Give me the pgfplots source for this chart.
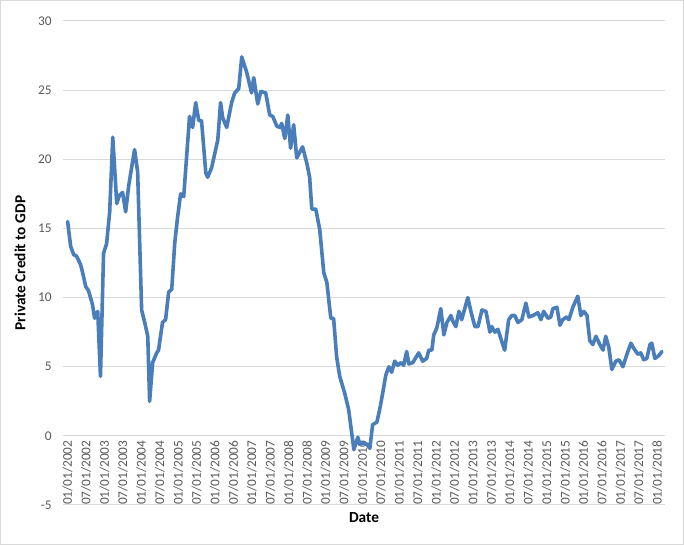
\documentclass[border=0pt]{standalone}
\usepackage{fontspec}
\setmainfont{Carlito}
\usepackage{pgfplots}
\pgfplotsset{compat=1.18}
\definecolor{linec}{HTML}{4A7EBB}
\definecolor{gridc}{HTML}{D9D9D9}
\definecolor{tickc}{HTML}{595959}
\begin{document}
\begin{tikzpicture}
\useasboundingbox (0,0) rectangle (513pt,408.75pt);
\draw[gridc, line width=0.75pt] (0.375pt,0.375pt) rectangle (512.625pt,408.375pt);
\begin{axis}[
  at={(47.25pt,30pt)}, anchor=south west,
  scale only axis, width=451.5pt, height=363pt,
  xmin=-1.5, xmax=194.5, ymin=-5, ymax=30,
  xtick={0,6,...,192},
  xticklabels={01/01/2002,07/01/2002,01/01/2003,07/01/2003,01/01/2004,07/01/2004,01/01/2005,07/01/2005,01/01/2006,07/01/2006,01/01/2007,07/01/2007,01/01/2008,07/01/2008,01/01/2009,07/01/2009,01/01/2010,07/01/2010,01/01/2011,07/01/2011,01/01/2012,07/01/2012,01/01/2013,07/01/2013,01/01/2014,07/01/2014,01/01/2015,07/01/2015,01/01/2016,07/01/2016,01/01/2017,07/01/2017,01/01/2018},
  ytick={-5,0,...,30},
  ymajorgrids, grid style={gridc, line width=0.75pt},
  axis line style={draw=none},
  major tick length=0pt,
  tick label style={font=\fontsize{10}{12}\selectfont, color=tickc},
  /pgf/number format/assume math mode=true,
  xticklabel style={rotate=90, anchor=east},
  xticklabel shift=-51.857pt,
  yticklabel shift=5pt,
  xlabel={Date}, ylabel={Private Credit to GDP},
  label style={font=\fontsize{11.5}{13}\selectfont\bfseries},
  xlabel style={at={(axis description cs:0.5,-0.027)}, anchor=center},
  ylabel style={at={(axis description cs:-0.0714,0.5)}, anchor=center},
]
\addplot[linec, line width=2.7pt, line join=round, line cap=round, mark=none] coordinates {
(0,15.5) (1.0,13.7) (2.0,13.1) (2.9,13.0) (4.2,12.4) (4.9,11.8) (5.9,10.8) (6.8,10.5)
(8.1,9.5) (8.8,8.5) (9.8,9.0) (10.7,4.3) (11.7,13.2) (12.7,13.9) (13.7,16.2) (14.7,21.6)
(16.0,16.8) (16.9,17.4) (17.9,17.6) (18.9,16.2) (19.9,18.1) (21.8,20.7) (22.8,19.1)
(24.1,9.1) (25.1,8.2) (26.1,7.2) (26.7,2.5) (27.7,5.3) (29.0,6.0) (29.6,6.2) (30.9,8.2)
(31.9,8.4) (32.9,10.4) (33.9,10.6) (34.9,14.0) (35.8,15.8) (36.8,17.5) (37.8,17.3)
(39.7,23.1) (40.7,22.3) (41.7,24.1) (42.7,22.8) (43.6,22.8) (45.0,19.0) (45.6,18.7)
(46.9,19.4) (48.9,21.4) (49.8,24.1) (50.5,23.0) (51.8,22.3) (53.4,24.1) (54.4,24.8)
(55.7,25.1) (56.7,27.4) (58.3,26.3) (59.9,24.8) (60.6,25.9) (61.9,24.0) (62.9,24.9)
(64.5,24.8) (65.8,23.2) (66.8,23.1) (68.1,22.4) (69.1,22.3) (69.7,22.6) (70.7,21.5)
(71.7,23.2) (72.6,20.8) (73.6,22.5) (74.6,20.1) (76.5,20.9) (77.9,19.7) (78.8,18.7)
(79.5,16.4) (80.8,16.4) (82.1,14.9) (83.4,11.8) (84.4,11.1) (85.7,8.5) (86.6,8.5)
(87.6,5.7) (88.6,4.3) (90.2,3.1) (91.5,1.9) (92.5,0.2) (93.2,-1.0) (94.5,-0.1)
(95.1,-0.6) (96.1,-0.5) (97.4,-0.6) (98.4,-0.9) (99.3,0.8) (100.7,1.0) (101.6,1.9)
(102.6,3.1) (103.6,4.4) (104.6,5.0) (105.5,4.6) (106.5,5.4) (107.5,5.1) (108.5,5.3)
(109.4,5.1) (110.4,6.1) (111.1,5.2) (112.4,5.3) (114.3,6.0) (115.6,5.4) (116.9,5.6)
(117.6,6.2) (118.6,6.2) (119.2,7.3) (120.2,7.8) (121.5,9.2) (122.5,7.3) (123.5,8.2)
(124.8,8.7) (125.4,8.3) (126.4,7.9) (127.4,9.0) (128.3,8.4) (130.3,10.0) (131.3,9.0)
(132.6,7.9) (133.6,7.9) (134.9,9.1) (136.2,9.0) (137.5,7.5) (138.1,7.9) (139.1,7.5)
(140.1,7.7) (141.4,6.8) (142.3,6.2) (143.6,8.4) (144.6,8.7) (145.6,8.7) (146.6,8.2)
(147.9,8.4) (149.2,9.6) (150.2,8.6) (151.5,8.7) (153.1,8.9) (154.1,8.4) (155.0,9.0)
(156.4,8.5) (157.3,8.6) (158.0,9.2) (159.3,9.3) (160.3,8.0) (161.2,8.4) (162.5,8.6)
(163.2,8.4) (164.5,9.3) (166.1,10.1) (167.1,8.7) (168.1,9.0) (169.1,8.7) (170.0,6.9)
(171.0,6.6) (172.0,7.2) (173.3,6.6) (174.3,6.2) (175.2,7.2) (176.2,6.4) (177.2,4.8)
(178.5,5.4) (179.5,5.5) (180.8,5.0) (182.1,5.9) (183.4,6.7) (184.4,6.3) (185.7,5.9)
(186.6,6.0) (187.6,5.5) (188.6,5.6) (189.6,6.6) (190.2,6.7) (191.2,5.6) (192.5,5.8)
(193.5,6.1)
};
\end{axis}
\end{tikzpicture}
\end{document}
